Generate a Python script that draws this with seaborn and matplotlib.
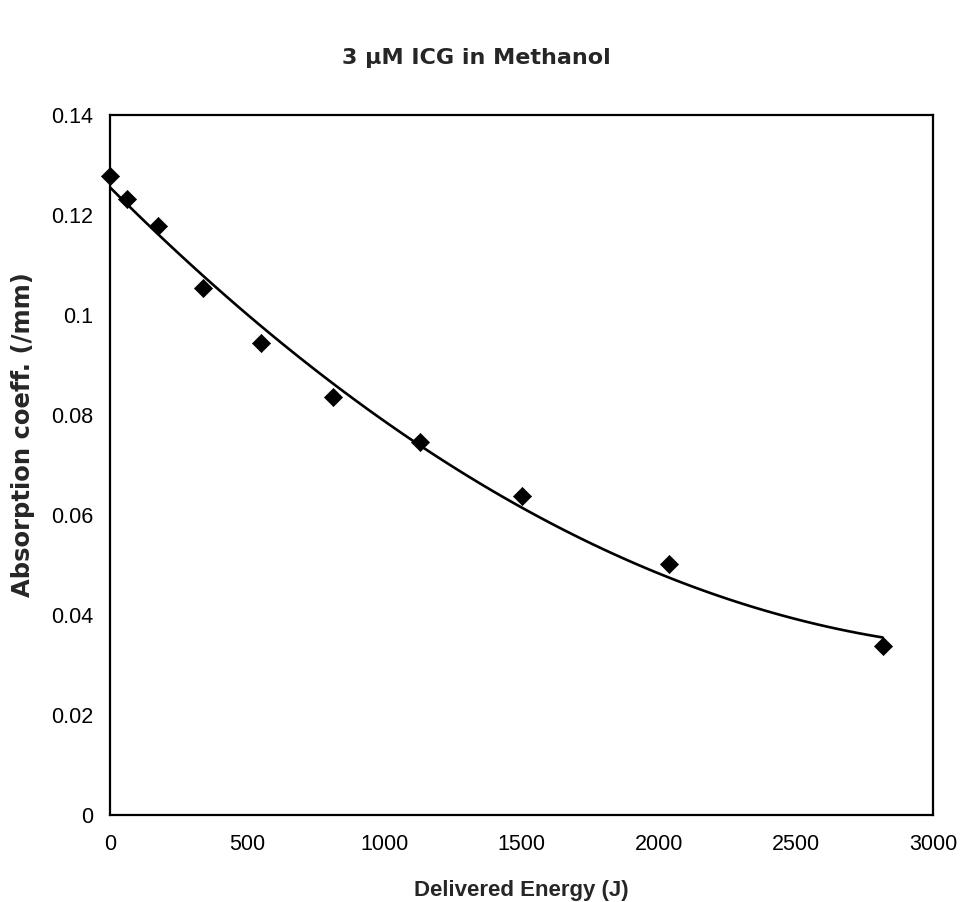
import matplotlib
matplotlib.use("Agg")
import matplotlib.pyplot as plt
import seaborn as sns
import pandas as pd

# Measured absorption coefficient vs delivered energy
energy_j = [0, 63, 176, 340, 549, 814, 1130, 1500, 2039, 2816]
absorption_per_mm = [0.1278, 0.1232, 0.1177, 0.1053, 0.0943, 0.0835, 0.0745, 0.0638, 0.0502, 0.0337]

x_ticks = [0, 500, 1000, 1500, 2000, 2500, 3000]
y_ticks = [0, 0.02, 0.04, 0.06, 0.08, 0.1, 0.12, 0.14]
y_tick_labels = ["0", "0.02", "0.04", "0.06", "0.08", "0.1", "0.12", "0.14"]

df = pd.DataFrame({"energy": energy_j, "mu_a": absorption_per_mm})

sns.set_style("white")
plt.rcParams["font.family"] = ["Liberation Sans", "DejaVu Sans"]

fig = plt.figure(figsize=(9.63, 9.02), dpi=100)
ax = fig.add_axes([0.1142, 0.0965, 0.969 - 0.1142, 0.8725 - 0.0965])

# second-order polynomial trend line through the measurements
sns.regplot(data=df, x="energy", y="mu_a", order=2, ci=None, truncate=True,
            scatter=False, ax=ax, line_kws={"color": "black", "lw": 1.9})
sns.scatterplot(data=df, x="energy", y="mu_a", marker="D", s=85, color="black",
                edgecolor="black", linewidth=0.5, ax=ax, zorder=5, clip_on=False)

ax.set_xlim(0, 3000)
ax.set_ylim(0, 0.14)
ax.set_xticks(x_ticks)
ax.set_xticklabels([str(t) for t in x_ticks])
ax.set_yticks(y_ticks)
ax.set_yticklabels(y_tick_labels)

for side in ["left", "right", "top", "bottom"]:
    ax.spines[side].set_visible(True)
    ax.spines[side].set_color("black")
    ax.spines[side].set_linewidth(1.6)

ax.tick_params(axis="x", direction="inout", length=9, width=1.2, labelsize=15.5, pad=9, colors="black")
ax.tick_params(axis="y", direction="out", length=7, width=1.2, labelsize=15.5, pad=5, colors="black")

ax.set_xlabel("Delivered Energy (J)", fontsize=16, fontweight="bold", labelpad=18)
ax.set_ylabel("Absorption coeff. (/mm)", fontsize=17.5, fontweight="bold",
              family=["DejaVu Sans"])
ax.yaxis.set_label_coords(-0.091, 0.543)

fig.text(476 / 963, 1 - 58 / 902, "3 \u03bcM ICG in Methanol", ha="center", va="center",
         fontsize=16, fontweight="bold", family=["DejaVu Sans"])

fig.savefig("out.png", dpi=100, facecolor="white")
